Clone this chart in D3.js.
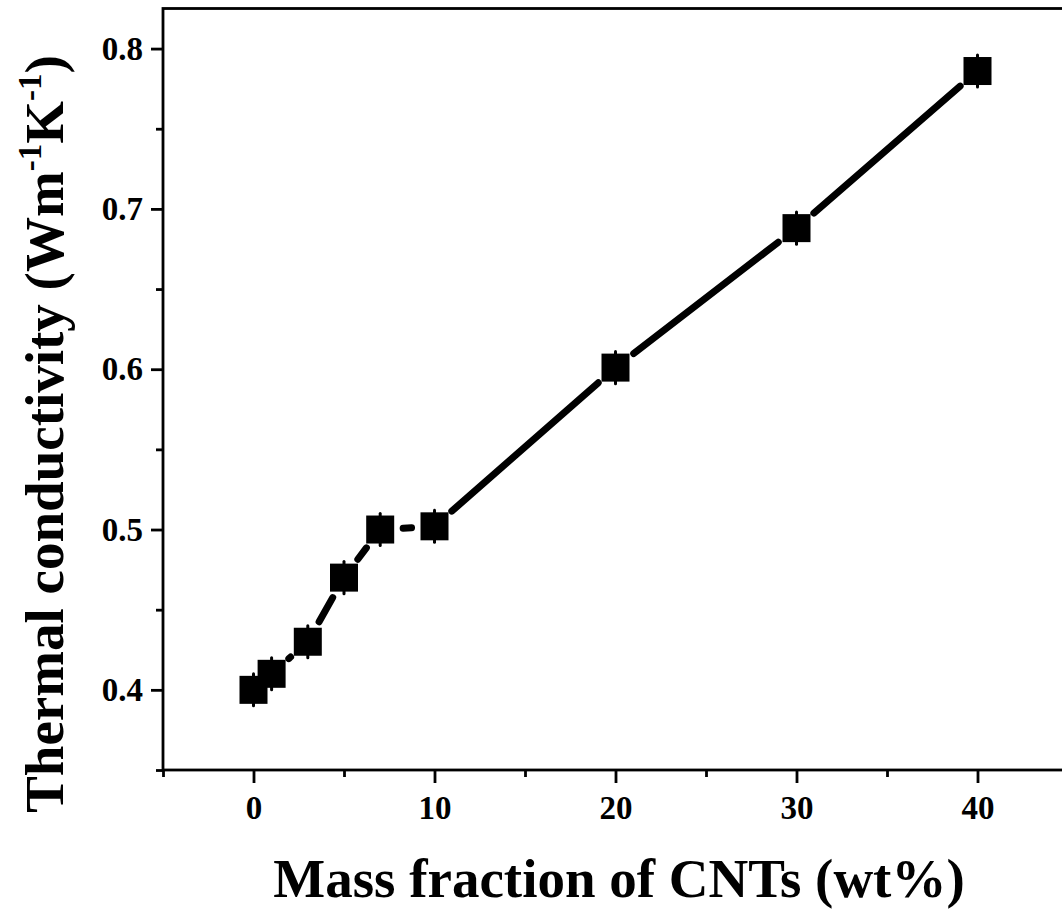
<!DOCTYPE html>
<html>
<head>
<meta charset="utf-8">
<script src="https://cdn.jsdelivr.net/npm/d3@7"></script>
<style>
  body { margin: 0; background: #fff; }
  svg { display: block; }
  text { font-family: "Liberation Serif", "Times New Roman", serif; font-weight: bold; }
</style>
</head>
<body>
<svg width="1062" height="913"></svg>
<script>
let svg = d3.select("svg");

// data
let massFraction = [0, 1, 3, 5, 7, 10, 20, 30, 40];
let conductivity = [0.400, 0.410, 0.430, 0.470, 0.500, 0.502, 0.601, 0.688, 0.786];
let errs = [0.010, 0.010, 0.010, 0.010, 0.010, 0.010, 0.010, 0.010, 0.010];

let xMajor = [0, 10, 20, 30, 40];
let xMinor = [-5, 5, 15, 25, 35];
let yMajor = [0.4, 0.5, 0.6, 0.7, 0.8];
let yMinor = [0.35, 0.45, 0.55, 0.65, 0.75];

let plotLeft = 163, plotRight = 1068, plotTop = 8.5, plotBottom = 770;
let markerSize = 28;
let gap = 23;

let x = d3.scaleLinear().domain([-5, 45]).range([plotLeft, plotRight]);
let y = d3.scaleLinear().domain([0.35, 0.825]).range([plotBottom, plotTop]);

// frame
svg.append("rect")
    .attr("x", plotLeft)
    .attr("y", plotTop)
    .attr("width", plotRight - plotLeft)
    .attr("height", plotBottom - plotTop)
    .attr("fill", "none")
    .attr("stroke", "#000")
    .attr("stroke-width", 2.8);

function styleAxis(g){
    g.select(".domain").remove();
    g.selectAll("line").attr("stroke", "#000").attr("stroke-width", 2.8);
    g.selectAll("text").attr("fill", "#000").style("font-size", "33px");
}

svg.append("g")
    .attr("transform", `translate(0,${plotBottom})`)
    .call(d3.axisBottom(x).tickValues(xMajor).tickSize(13).tickPadding(13).tickFormat(d3.format("d")))
    .call(styleAxis);
svg.append("g")
    .attr("transform", `translate(0,${plotBottom})`)
    .call(d3.axisBottom(x).tickValues(xMinor).tickSize(7).tickFormat(""))
    .call(styleAxis);

svg.append("g")
    .attr("transform", `translate(${plotLeft},0)`)
    .call(d3.axisLeft(y).tickValues(yMajor).tickSize(12).tickPadding(8).tickFormat(d3.format(".1f")))
    .call(styleAxis);
svg.append("g")
    .attr("transform", `translate(${plotLeft},0)`)
    .call(d3.axisLeft(y).tickValues(yMinor).tickSize(7).tickFormat(""))
    .call(styleAxis);

// line segments with a gap to each symbol
let pts = massFraction.map((m, i) => [x(m), y(conductivity[i])]);
for (let i = 0; i < pts.length - 1; i++){
    let [x0, y0] = pts[i], [x1, y1] = pts[i + 1];
    let dx = x1 - x0, dy = y1 - y0;
    let len = Math.sqrt(dx*dx + dy*dy);
    if (len <= 2*gap) continue;
    let ux = dx/len, uy = dy/len;
    svg.append("line")
        .attr("x1", x0 + ux*gap)
        .attr("y1", y0 + uy*gap)
        .attr("x2", x1 - ux*gap)
        .attr("y2", y1 - uy*gap)
        .attr("stroke", "#000")
        .attr("stroke-width", 7)
        .attr("stroke-linecap", "round");
}

// error bars
svg.append("g").selectAll("line")
    .data(massFraction)
    .join("line")
    .attr("x1", d => x(d))
    .attr("x2", d => x(d))
    .attr("y1", (d, i) => y(conductivity[i] - errs[i]))
    .attr("y2", (d, i) => y(conductivity[i] + errs[i]))
    .attr("stroke", "#000")
    .attr("stroke-width", 3)
    .attr("stroke-linecap", "round");

// square symbols
svg.append("g").selectAll("rect")
    .data(massFraction)
    .join("rect")
    .attr("x", d => x(d) - markerSize/2)
    .attr("y", (d, i) => y(conductivity[i]) - markerSize/2)
    .attr("width", markerSize)
    .attr("height", markerSize)
    .attr("fill", "#000");

// axis titles
svg.append("text")
    .attr("x", 619)
    .attr("y", 897)
    .attr("text-anchor", "middle")
    .style("font-size", "55px")
    .text("Mass fraction of CNTs (wt%)");

let yt = svg.append("text")
    .attr("transform", "rotate(-90)")
    .attr("x", -434)
    .attr("y", 63)
    .attr("text-anchor", "middle")
    .style("font-size", "55px");
yt.append("tspan").text("Thermal conductivity (Wm");
yt.append("tspan").attr("dy", -22).style("font-size", "33px").text("-1");
yt.append("tspan").attr("dy", 22).text("K");
yt.append("tspan").attr("dy", -22).style("font-size", "33px").text("-1");
yt.append("tspan").attr("dy", 22).text(")");
</script>
</body>
</html>
